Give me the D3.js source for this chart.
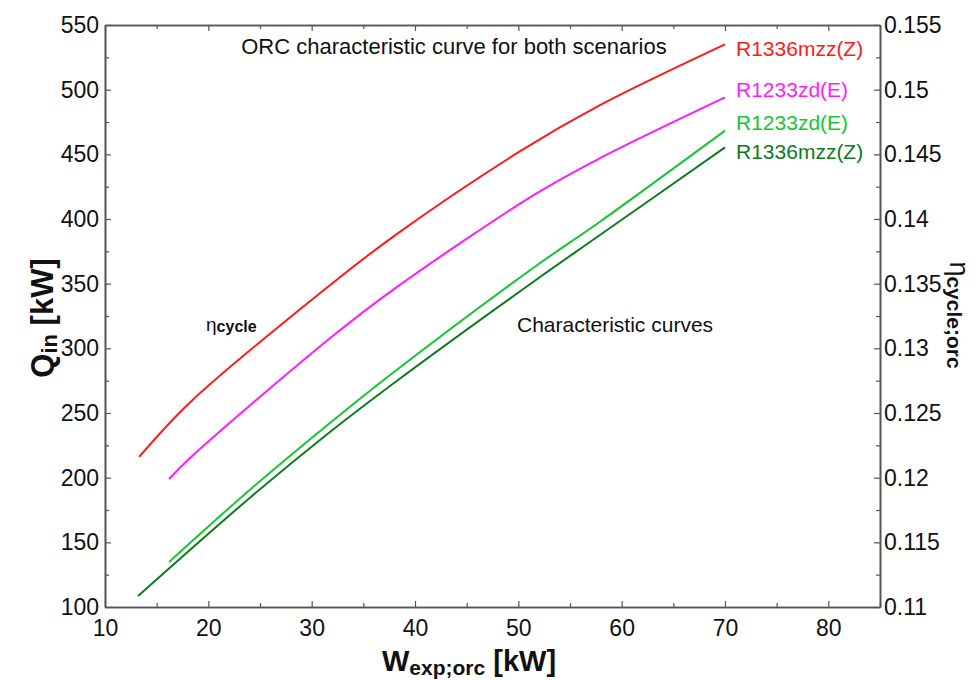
<!doctype html>
<html>
<head>
<meta charset="utf-8"/>
<title>ORC characteristic curve</title>
<script src="https://d3js.org/d3.v7.min.js"></script>
<style>
  body { margin: 0; background: #fff; }
  text { font-family: "Liberation Sans", Arial, sans-serif; }
</style>
</head>
<body>
<div id="chart"></div>
<script>
// W_exp;orc [kW] readings and values
var xR1336eta = [13.3, 18.2, 31.8, 38.0, 50.3, 57.9, 70.0];
var yR1336eta = [0.1216, 0.1258, 0.1349, 0.1387, 0.1453, 0.1488, 0.1535];

var xR1233eta = [16.2, 18.2, 31.8, 38.0, 51.6, 57.9, 70.0];
var yR1233eta = [0.1199, 0.1215, 0.1308, 0.1346, 0.1419, 0.1447, 0.1494];

var xR1233q = [16.2, 24.0, 31.8, 38.0, 51.6, 57.9, 70.0];
var yR1233q = [134.8, 190.5, 242.5, 281.9, 363.1, 397.9, 468.3];

var xR1336q = [13.2, 24.0, 31.8, 38.0, 51.6, 57.9, 70.0];
var yR1336q = [108.5, 184.3, 235.5, 273.4, 352.3, 387.6, 455.4];

var xTicks = [10, 20, 30, 40, 50, 60, 70, 80];
var qTicks = [100, 150, 200, 250, 300, 350, 400, 450, 500, 550];
var etaTicks = [0.11, 0.115, 0.12, 0.125, 0.13, 0.135, 0.14, 0.145, 0.15, 0.155];

var W = 976, H = 680;
var m = {left: 105, right: 96, top: 25, bottom: 73};
var w = W - m.left - m.right, h = H - m.top - m.bottom;

var svg = d3.select("#chart").append("svg")
    .attr("width", W).attr("height", H);
var g = svg.append("g").attr("transform", "translate(" + m.left + "," + m.top + ")");

var x = d3.scaleLinear().domain([10, 85]).range([0, w]);
var yQ = d3.scaleLinear().domain([100, 550]).range([h, 0]);
var yEta = d3.scaleLinear().domain([0.11, 0.155]).range([h, 0]);

var axisColor = "#555";

function minor(ticks) {
  var out = [];
  for (var i = 0; i < ticks.length - 1; i++) out.push((ticks[i] + ticks[i + 1]) / 2);
  return out;
}
var xMinor = minor(xTicks).concat([85]);

function styleAxis(sel) {
  sel.selectAll(".domain").attr("stroke", axisColor).attr("stroke-width", 1.6);
  sel.selectAll(".tick line").attr("stroke", axisColor).attr("stroke-width", 1.2);
  sel.selectAll(".tick text").attr("fill", "#111").style("font-size", "23px")
    .style("font-family", "'Liberation Sans', Arial, sans-serif");
}

// bottom
g.append("g").attr("transform", "translate(0," + h + ")")
  .call(d3.axisBottom(x).tickValues(xMinor).tickSize(-4).tickFormat("").tickSizeOuter(0))
  .call(styleAxis);
g.append("g").attr("transform", "translate(0," + h + ")")
  .call(d3.axisBottom(x).tickValues(xTicks).tickSize(-6).tickPadding(13).tickSizeOuter(0))
  .call(styleAxis);
// top
g.append("g")
  .call(d3.axisTop(x).tickValues(xMinor).tickSize(-4).tickFormat("").tickSizeOuter(0))
  .call(styleAxis);
g.append("g")
  .call(d3.axisTop(x).tickValues(xTicks).tickSize(-6).tickFormat("").tickSizeOuter(0))
  .call(styleAxis);
// left
g.append("g")
  .call(d3.axisLeft(yQ).tickValues(minor(qTicks)).tickSize(-4).tickFormat("").tickSizeOuter(0))
  .call(styleAxis);
g.append("g")
  .call(d3.axisLeft(yQ).tickValues(qTicks).tickSize(-6).tickPadding(6).tickSizeOuter(0))
  .call(styleAxis);
// right
g.append("g").attr("transform", "translate(" + w + ",0)")
  .call(d3.axisRight(yEta).tickValues(minor(etaTicks)).tickSize(-4).tickFormat("").tickSizeOuter(0))
  .call(styleAxis);
g.append("g").attr("transform", "translate(" + w + ",0)")
  .call(d3.axisRight(yEta).tickValues(etaTicks).tickSize(-6).tickPadding(4).tickSizeOuter(0)
    .tickFormat(function(d) { return String(+d.toFixed(3)); }))
  .call(styleAxis);

// curves
var series = [
  {xs: xR1336eta, ys: yR1336eta, y: yEta, color: "#ff1a1a", label: "R1336mzz(Z)", ly: 56},
  {xs: xR1233eta, ys: yR1233eta, y: yEta, color: "#ff1aff", label: "R1233zd(E)", ly: 97},
  {xs: xR1233q, ys: yR1233q, y: yQ, color: "#14c82d", label: "R1233zd(E)", ly: 130},
  {xs: xR1336q, ys: yR1336q, y: yQ, color: "#0b7d1e", label: "R1336mzz(Z)", ly: 159}
];

series.forEach(function(s) {
  var pts = s.xs.map(function(v, i) { return [v, s.ys[i]]; });
  var line = d3.line()
    .x(function(d) { return x(d[0]); })
    .y(function(d) { return s.y(d[1]); })
    .curve(d3.curveCatmullRom.alpha(0.5));
  g.append("path").datum(pts)
    .attr("d", line)
    .attr("fill", "none")
    .attr("stroke", s.color)
    .attr("stroke-width", 2);
  svg.append("text")
    .attr("x", 736).attr("y", s.ly)
    .attr("fill", s.color)
    .style("font-size", "21px")
    .text(s.label);
});

// annotations
svg.append("text").attr("x", 454).attr("y", 54).attr("text-anchor", "middle")
  .style("font-size", "22px").attr("fill", "#111")
  .text("ORC characteristic curve for both scenarios");
svg.append("text").attr("x", 517).attr("y", 332)
  .style("font-size", "21px").attr("fill", "#111")
  .text("Characteristic curves");
var eta = svg.append("text").attr("x", 206).attr("y", 331).attr("fill", "#111");
eta.append("tspan").style("font-size", "19px").text("η");
eta.append("tspan").style("font-size", "16px").style("font-weight", "bold").attr("dy", 1).text("cycle");

// axis titles
var xt = svg.append("text").attr("x", 469).attr("y", 671).attr("text-anchor", "middle")
  .style("font-weight", "bold").attr("fill", "#111");
xt.append("tspan").style("font-size", "29px").text("W");
xt.append("tspan").style("font-size", "21px").attr("dy", 4).text("exp;orc");
xt.append("tspan").style("font-size", "29px").attr("dy", -4).text(" [kW]");

var yt = svg.append("text").attr("transform", "translate(53,318) rotate(-90)")
  .attr("text-anchor", "middle").style("font-weight", "bold").attr("fill", "#111");
yt.append("tspan").style("font-size", "31px").text("Q");
yt.append("tspan").style("font-size", "22px").attr("dy", 4).text("in");
yt.append("tspan").style("font-size", "31px").attr("dy", -4).text(" [kW]");

var rt = svg.append("text").attr("transform", "translate(950,315) rotate(90)")
  .attr("text-anchor", "middle").attr("fill", "#111");
rt.append("tspan").style("font-size", "27px").text("η");
rt.append("tspan").style("font-size", "21px").style("font-weight", "bold").attr("dy", 3).text("cycle;orc");
</script>
</body>
</html>
